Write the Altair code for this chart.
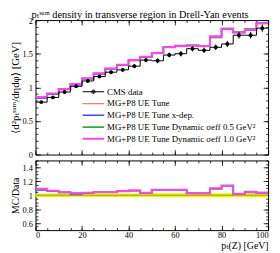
import altair as alt
import pandas as pd

SERIF = "Liberation Serif, DejaVu Serif, serif"

# ---------------- data ----------------
edges = [0, 5, 10, 15, 20, 25, 30, 35, 40, 45, 50, 55, 60, 65, 70, 75, 80, 85, 90, 95, 100]
centers = [2.5, 7.5, 12.5, 17.5, 22.5, 27.5, 32.5, 37.5, 42.5, 47.5,
           52.5, 57.5, 62.5, 67.5, 72.5, 77.5, 82.5, 87.5, 92.5, 97.5]

data_y = [0.78, 0.85, 0.93, 1.015, 1.095, 1.16, 1.225, 1.26, 1.315, 1.405,
          1.395, 1.48, 1.50, 1.575, 1.55, 1.595, 1.645, 1.775, 1.775, 1.88]
data_err = [0.015, 0.015, 0.018, 0.02, 0.02, 0.022, 0.025, 0.028, 0.03, 0.032,
            0.035, 0.035, 0.04, 0.04, 0.04, 0.042, 0.045, 0.05, 0.05, 0.055]

mc_red = [0.85, 0.905, 0.975, 1.045, 1.13, 1.205, 1.275, 1.33, 1.40, 1.45,
          1.505, 1.595, 1.61, 1.62, 1.61, 1.74, 1.865, 1.815, 1.855, 1.95]
mc_blue = [0.84, 0.90, 0.965, 1.035, 1.125, 1.20, 1.275, 1.33, 1.40, 1.45,
           1.505, 1.595, 1.615, 1.62, 1.61, 1.755, 1.87, 1.815, 1.855, 1.95]
mc_green = [0.85, 0.905, 0.97, 1.045, 1.13, 1.205, 1.28, 1.335, 1.405, 1.455,
            1.51, 1.60, 1.62, 1.625, 1.615, 1.755, 1.87, 1.825, 1.875, 1.955]
mc_mag = [0.855, 0.91, 0.975, 1.05, 1.135, 1.21, 1.28, 1.335, 1.405, 1.455,
          1.51, 1.60, 1.62, 1.625, 1.615, 1.76, 1.875, 1.82, 1.86, 1.955]

r_red = [1.088, 1.062, 1.044, 1.028, 1.034, 1.043, 1.043, 1.056, 1.066, 1.034,
         1.076, 1.077, 1.074, 1.028, 1.026, 1.090, 1.135, 1.022, 1.045, 1.036]
r_blue = [1.075, 1.055, 1.038, 1.015, 1.030, 1.040, 1.042, 1.056, 1.066, 1.033,
          1.076, 1.076, 1.077, 1.028, 1.028, 1.095, 1.137, 1.020, 1.045, 1.035]
r_green = [1.090, 1.063, 1.045, 1.029, 1.035, 1.045, 1.046, 1.060, 1.070, 1.036,
           1.079, 1.079, 1.078, 1.030, 1.030, 1.098, 1.138, 1.026, 1.056, 1.037]
r_mag = [1.093, 1.065, 1.046, 1.030, 1.037, 1.046, 1.046, 1.060, 1.070, 1.037,
         1.079, 1.079, 1.079, 1.030, 1.030, 1.100, 1.140, 1.020, 1.046, 1.037]

band_half = [0.025, 0.025, 0.025, 0.025, 0.025, 0.025, 0.025, 0.025, 0.025, 0.025,
             0.028, 0.028, 0.028, 0.028, 0.028, 0.028, 0.03, 0.03, 0.03, 0.03]

names = ["CMS data", "MG+P8 UE Tune", "MG+P8 UE Tune x-dep.",
         "MG+P8 UE Tune Dynamic σeff 0.5 GeV²", "MG+P8 UE Tune Dynamic σeff 1.0 GeV²"]
colors = ["#000000", "#f08080", "#4646f0", "#33a833", "#ee4cee"]
widths = [1.0, 2.0, 1.2, 1.2, 2.0]

x_major = [0, 20, 40, 60, 80, 100]
x_minor = edges
y1_major = [0, 0.5, 1, 1.5, 2]
y1_minor = [round(0.1 * i, 2) for i in range(21)]
y2_major = [0.6, 0.8, 1, 1.2, 1.4]
y2_minor = [round(0.5 + 0.05 * i, 2) for i in range(21)]

title_txt = "pₜˢᵘᵐ density in transverse region in Drell-Yan events"
y1_title = "⟨d²pₜˢᵘᵐ/dηdφ⟩ [GeV]"
y2_title = "MC/Data"
x_title = "pₜ(Z) [GeV]"

# ---------------- tables ----------------
def steps(vals, series):
    return pd.DataFrame({"x": edges, "y": list(vals) + [vals[-1]], "series": series})

main_series = [data_y, mc_red, mc_blue, mc_green, mc_mag]
ratio_series = [[1.0] * 20, r_red, r_blue, r_green, r_mag]
main_tabs = [steps(v, n) for v, n in zip(main_series, names)]
ratio_tabs = [steps(v, n) for v, n in zip(ratio_series, names)]
all_main = pd.concat(main_tabs, ignore_index=True)
all_ratio = pd.concat(ratio_tabs, ignore_index=True)

pts = pd.DataFrame({"x": centers, "y": data_y,
                    "lo": [a - b for a, b in zip(data_y, data_err)],
                    "hi": [a + b for a, b in zip(data_y, data_err)]})
band = pd.DataFrame({"x": edges,
                     "lo": [1 - h for h in band_half] + [1 - band_half[-1]],
                     "hi": [1 + h for h in band_half] + [1 + band_half[-1]]})

W, H1, H2 = 237, 137, 71
xs = alt.Scale(domain=[0, 100], nice=False, zero=False)
ys1 = alt.Scale(domain=[0, 2.0], nice=False, zero=False)
ys2 = alt.Scale(domain=[0.5, 1.5], nice=False, zero=False)


def axis(**kw):
    base = dict(grid=False, domain=False, labels=False, ticks=False, title=None,
                tickColor="black", tickWidth=0.8)
    base.update(kw)
    return alt.Axis(**base)


def tick_axis(orient, values, size, offset):
    return axis(orient=orient, values=values, ticks=True, tickSize=size, offset=offset)


def carrier(df, ys, xaxis, yaxis):
    return alt.Chart(df).mark_point(opacity=0).encode(
        x=alt.X("x:Q", scale=xs, axis=xaxis),
        y=alt.Y("y:Q", scale=ys, axis=yaxis),
    )


def step_line(df, ys, color, width):
    return alt.Chart(df).mark_line(interpolate="step-after", color=color,
                                   strokeWidth=width, clip=True).encode(
        x=alt.X("x:Q", scale=xs, axis=None),
        y=alt.Y("y:Q", scale=ys, axis=None),
    )


MAJ, MIN = 5, 2.5

# ---------------- main panel ----------------
leg = alt.Legend(orient="none", legendX=47, legendY=67, title=None, symbolOpacity=1,
                 clipHeight=12, symbolSize=484, labelFont=SERIF, labelFontSize=9,
                 labelColor="black", padding=0, rowPadding=0, labelOffset=2,
                 symbolOffset=0, labelLimit=400)
data_path = ("M-1,0H1M0.16,0A0.16,0.16,0,1,1,-0.16,0A0.16,0.16,0,1,1,0.16,0"
             "M0.07,0A0.07,0.07,0,1,1,-0.07,0A0.07,0.07,0,1,1,0.07,0")
line_path = "M-1,0H1"

legend_layer = alt.Chart(all_main).mark_point(opacity=0, filled=False).encode(
    x=alt.X("x:Q", scale=xs, axis=None),
    y=alt.Y("y:Q", scale=ys1, axis=None),
    color=alt.Color("series:N", scale=alt.Scale(domain=names, range=colors), legend=leg),
    shape=alt.Shape("series:N", scale=alt.Scale(domain=names, range=[data_path] + [line_path] * 4), legend=leg),
    strokeWidth=alt.StrokeWidth("series:N", scale=alt.Scale(domain=names, range=widths), legend=leg),
)

main_layers = [
    step_line(main_tabs[1], ys1, colors[1], widths[1]),
    step_line(main_tabs[2], ys1, colors[2], widths[2]),
    step_line(main_tabs[3], ys1, colors[3], widths[3]),
    step_line(main_tabs[4], ys1, colors[4], widths[4]),
    step_line(main_tabs[0], ys1, "black", 1.0),
    alt.Chart(pts).mark_rule(color="black", strokeWidth=1).encode(
        x=alt.X("x:Q", scale=xs, axis=None),
        y=alt.Y("lo:Q", scale=ys1, axis=None), y2="hi:Q"),
    alt.Chart(pts).mark_circle(size=16, color="black", opacity=1).encode(
        x=alt.X("x:Q", scale=xs, axis=None),
        y=alt.Y("y:Q", scale=ys1, axis=None)),
    legend_layer,
    carrier(all_main, ys1, None,
            axis(orient="left", values=y1_major, labels=True, format="~g",
                 title=y1_title, titleFontSize=11, labelPadding=3, titlePadding=2)),
    carrier(all_main, ys1, tick_axis("top", x_major, MAJ, -H1), tick_axis("right", y1_major, MAJ, -W)),
    carrier(all_main, ys1, tick_axis("top", x_minor, MIN, -H1), tick_axis("right", y1_minor, MIN, -W)),
    carrier(all_main, ys1, tick_axis("bottom", x_major, MAJ, -H1), tick_axis("left", y1_major, MAJ, -W)),
    carrier(all_main, ys1, tick_axis("bottom", x_minor, MIN, -H1), tick_axis("left", y1_minor, MIN, -W)),
]
main = alt.layer(*main_layers).resolve_axis(x="independent", y="independent").properties(width=W, height=H1)

# ---------------- ratio panel ----------------
ratio_layers = [
    alt.Chart(band).mark_area(interpolate="step-after", color="#f2f200", opacity=1).encode(
        x=alt.X("x:Q", scale=xs, axis=None),
        y=alt.Y("lo:Q", scale=ys2, axis=None), y2="hi:Q"),
    step_line(ratio_tabs[0], ys2, "#b8b800", 1.5),
    step_line(ratio_tabs[1], ys2, colors[1], widths[1]),
    step_line(ratio_tabs[2], ys2, colors[2], widths[2]),
    step_line(ratio_tabs[3], ys2, colors[3], widths[3]),
    step_line(ratio_tabs[4], ys2, colors[4], widths[4]),
    carrier(all_ratio, ys2,
            axis(orient="bottom", values=x_major, labels=True, title=x_title,
                 titleAnchor="end", titleFontSize=10, labelPadding=1, titlePadding=1.5),
            axis(orient="left", values=y2_major, labels=True, format="~g",
                 title=y2_title, labelPadding=3, titlePadding=2)),
    carrier(all_ratio, ys2, tick_axis("top", x_major, MAJ, -H2), tick_axis("right", y2_major, MAJ, -W)),
    carrier(all_ratio, ys2, tick_axis("top", x_minor, MIN, -H2), tick_axis("right", y2_minor, MIN, -W)),
    carrier(all_ratio, ys2, tick_axis("bottom", x_major, MAJ, -H2), tick_axis("left", y2_major, MAJ, -W)),
    carrier(all_ratio, ys2, tick_axis("bottom", x_minor, MIN, -H2), tick_axis("left", y2_minor, MIN, -W)),
]
ratio = alt.layer(*ratio_layers).resolve_axis(x="independent", y="independent").properties(width=W, height=H2)

chart = alt.vconcat(main, ratio, spacing=0).resolve_scale(
    color="independent", shape="independent", strokeWidth="independent"
).properties(
    title=alt.TitleParams(text=title_txt, font=SERIF, fontSize=10.5, fontWeight="normal",
                          anchor="middle", offset=-5, color="black"),
    padding={"left": 0, "top": 0, "right": 0, "bottom": 0},
    background="white",
).configure_view(stroke="black", strokeWidth=1).configure_axis(
    labelFont=SERIF, titleFont=SERIF, labelFontSize=8.5, titleFontSize=10,
    titleFontWeight="normal", labelColor="black", titleColor="black",
)

chart.save("out.html", embed_options={"renderer": "svg", "actions": False})
